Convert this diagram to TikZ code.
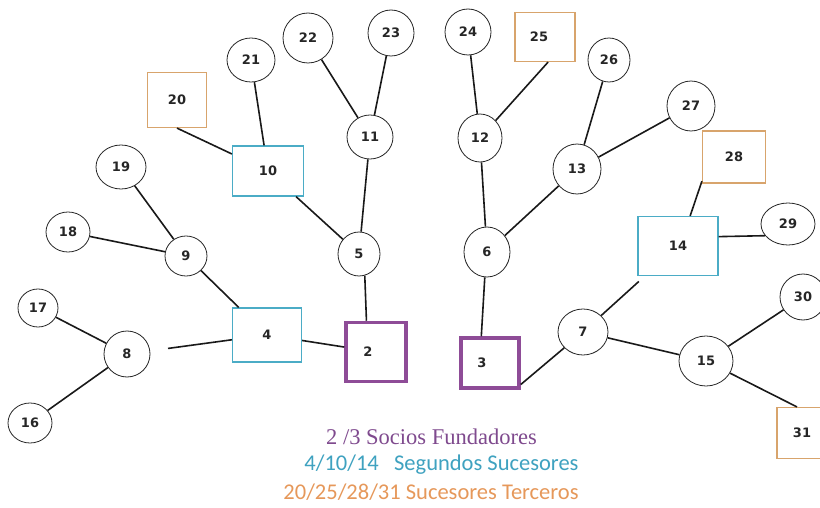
\documentclass[tikz,border=0pt]{standalone}
\usepackage{fontspec}
\setsansfont{DejaVu Sans}
\newfontfamily\legserif{Liberation Serif}
\newfontfamily\legsans{Carlito}
\usetikzlibrary{shapes.geometric}
\definecolor{fpurple}{HTML}{8E4C97}
\definecolor{tpurple}{HTML}{7F4A8E}
\definecolor{fcyan}{HTML}{4BACC6}
\definecolor{tcyan}{HTML}{3FA2C0}
\definecolor{forange}{HTML}{D8A46C}
\definecolor{lorange}{HTML}{E6985A}
\begin{document}
\begin{tikzpicture}[x=1pt,y=-1pt,
  every node/.style={font=\sffamily\bfseries\fontsize{13}{15}\selectfont, text=black!85},
  circ/.style={ellipse, draw=black!85, line width=0.8pt, minimum width=46pt, minimum height=44pt, inner sep=0pt},
  founder/.style={rectangle, draw=fpurple, line width=3.5pt, inner sep=0pt},
  second/.style={rectangle, draw=fcyan, line width=1.2pt, inner sep=0pt},
  third/.style={rectangle, draw=forange, line width=1.2pt, inner sep=0pt},
  link/.style={draw=black!90, line width=1.6pt}]
\useasboundingbox (0,0) rectangle (820,508);
\fill[white] (0,0) rectangle (820,508);
% founders
\node[founder, minimum width=60pt, minimum height=59pt] (n2) at (376,352) {2\hspace*{16pt}};
\node[founder, minimum width=58pt, minimum height=50pt] (n3) at (490,363) {3\hspace*{16pt}};
% second successors
\node[second, minimum width=69pt, minimum height=54pt] (n4) at (267,335) {4};
\node[second, minimum width=71pt, minimum height=50pt] (n10) at (268,171) {10};
\node[second, minimum width=80pt, minimum height=59pt] (n14) at (678,246) {14};
% third successors
\node[third, minimum width=59pt, minimum height=55pt] (n20) at (177,100) {20};
\node[third, minimum width=60pt, minimum height=49pt] (n25) at (545,37) {25\hspace*{12pt}};
\node[third, minimum width=63pt, minimum height=52pt] (n28) at (734,157) {28};
\node[third, minimum width=50pt, minimum height=51pt] (n31) at (802,433) {31};
% circles
\node[circ, minimum width=44pt, minimum height=40pt] (n16) at (30,423) {16};
\node[circ, minimum width=40pt, minimum height=38pt] (n17) at (38,308) {17};
\node[circ, minimum height=46pt] (n8) at (127,354) {8};
\node[circ, minimum width=44pt, minimum height=40pt] (n18) at (68,232) {18};
\node[circ, minimum width=42pt, minimum height=40pt] (n9) at (186,256) {9};
\node[circ, minimum width=50pt] (n19) at (121,167) {19};
\node[circ, minimum width=48pt] (n21) at (251,60) {21};
\node[circ, minimum width=50pt, minimum height=50pt] (n22) at (308,38) {22};
\node[circ, minimum height=46pt] (n23) at (391,33) {23};
\node[circ] (n11) at (370,137) {11};
\node[circ, minimum width=42pt] (n5) at (359,254) {5};
\node[circ, minimum height=46pt] (n24) at (468,32) {24};
\node[circ, minimum width=44pt, minimum height=48pt] (n12) at (480,138) {12};
\node[circ, minimum height=50pt] (n6) at (487,252) {6};
\node[circ, minimum width=42pt] (n26) at (609,60) {26};
\node[circ, minimum width=48pt, minimum height=50pt] (n13) at (577,169) {13};
\node[circ, minimum width=48pt, minimum height=50pt] (n27) at (691,106) {27};
\node[circ, minimum width=54pt, minimum height=42pt] (n29) at (788,224) {29};
\node[circ, minimum height=46pt] (n30) at (803,297) {30};
\node[circ, minimum width=50pt, minimum height=46pt] (n7) at (583,332) {7};
\node[circ, minimum width=54pt, minimum height=50pt] (n15) at (706,361) {15};
% connectors
\path[link] (n16) -- (n8);
\path[link] (n17) -- (n8);
\path[link, shorten <=18pt] (n8) -- (n4);
\path[link] (n4) -- (n2);
\path[link] (n4) -- (n9);
\path[link] (n9) -- (n18);
\path[link] (n9) -- (n19);
\path[link] (n5) -- (n10);
\path[link] (n5) -- (n11);
\path[link] (n5.285) -- (n2.107);
\path[link] (n10) -- (n20.south);
\path[link] (n10) -- (n21);
\path[link] (n11) -- (n22);
\path[link] (n11) -- (n23);
\path[link] (n6.265) -- (n3.108);
\path[link] (n6) -- (n12);
\path[link] (n6) -- (n13);
\path[link] (n12) -- (n24);
\path[link] (n12) -- (n25.277);
\path[link] (n13) -- (n26);
\path[link] (n13) -- (n27);
\path[link] (n3.-35) -- (n7);
\path[link, shorten >=8pt] (n7) -- (n14);
\path[link] (n7) -- (n15);
\path[link] (n15) -- (n30);
\path[link] (n15) -- (n31.101);
\path[link] (n14.68) -- (n28.217);
\path[link] (n14.13) -- (n29.207);
% legend
\node[font=\legserif\fontsize{22.5}{24}\selectfont, text=tpurple] (lg1) at (431.5,437) {2 /3 Socios Fundadores};
\node[font=\legsans\fontsize{22.5}{24}\selectfont, text=tcyan] (lg2) at (441.5,465) {4/10/14\ \ \ Segundos Sucesores};
\node[font=\legsans\fontsize{22.5}{24}\selectfont, text=lorange] (lg3) at (431,492) {20/25/28/31 Sucesores Terceros};
\end{tikzpicture}
\end{document}
